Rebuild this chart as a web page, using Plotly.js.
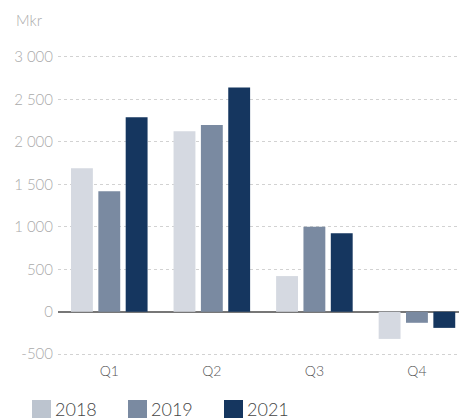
<!DOCTYPE html>
<html><head><meta charset="utf-8">
<script src="https://cdn.plot.ly/plotly-3.0.1.min.js"></script>
<style>html,body{margin:0;padding:0;background:#fff}#chart{width:459px;height:419px}</style>
</head><body><div id="chart"></div>
<script>
const categories = ['Q1','Q2','Q3','Q4'];
const seriesNames = ['2018','2019','2021'];
const values2018 = [1690, 2125, 420, -320];
const values2019 = [1420, 2200, 1000, -130];
const values2021 = [2290, 2640, 925, -190];
const colors = ['#d5d9e1','#7a8aa1','#15365f'];
const legendColors = ['#bcc4cf','#7a8aa1','#15365f'];
const yTicks = [-500, 0, 500, 1000, 1500, 2000, 2500, 3000];
const yTickText = ['-500','0','500','1 000','1 500','2 000','2 500','3 000'];

const allValues = [values2018, values2019, values2021];
const traces = allValues.map((v,i)=>({
  type:'bar', x:categories, y:v, name:seriesNames[i],
  marker:{color:colors[i], line:{width:0}}, showlegend:false, hoverinfo:'x+y'
}));

const W=459, H=419, ml=58, mr=0, mt=40, mb=58;
const pw=W-ml-mr, ph=H-mt-mb;
const px2x = p => (p-ml)/pw;
const py2y = p => (H-mb-p)/ph;

const shapes=[], annotations=[];
seriesNames.forEach((n,i)=>{
  const x0=32+96*i;
  shapes.push({type:'rect', xref:'paper', yref:'paper', x0:px2x(x0), x1:px2x(x0+19), y0:py2y(418), y1:py2y(400), fillcolor:legendColors[i], line:{width:0}});
  annotations.push({xref:'paper', yref:'paper', x:px2x(x0+21), y:py2y(409), xanchor:'left', yanchor:'middle', text:n, showarrow:false, font:{size:18, color:'#444', family:'Lato, sans-serif', weight:300}});
});
annotations.push({xref:'paper', yref:'paper', x:px2x(14), y:py2y(20), xanchor:'left', yanchor:'middle', text:'Mkr', showarrow:false, font:{size:15, color:'#aaa', family:'Lato, sans-serif', weight:300}});

const layout = {
  width:W, height:H, margin:{l:ml, r:mr, t:mt, b:mb},
  paper_bgcolor:'#fff', plot_bgcolor:'#fff',
  font:{family:'Lato, sans-serif'},
  barmode:'group', bargap:0.2, bargroupgap:0.2,
  showlegend:false,
  xaxis:{type:'category', range:[-0.5,3.41], showgrid:false, showline:false, ticks:'',
    tickfont:{size:14, color:'#555', weight:300}, fixedrange:true},
  yaxis:{range:[-580,3200], tickvals:yTicks, ticktext:yTickText, showgrid:true,
    gridcolor:'#d2d2d2', griddash:'dot', gridwidth:1,
    zeroline:true, zerolinecolor:'#777', zerolinewidth:2, showline:false, ticks:'',
    tickfont:{size:15, color:'#aaa', weight:300}, ticklabelstandoff:4},
  shapes:shapes, annotations:annotations
};
Plotly.newPlot('chart', traces, layout, {displayModeBar:false, staticPlot:true});
</script></body></html>
